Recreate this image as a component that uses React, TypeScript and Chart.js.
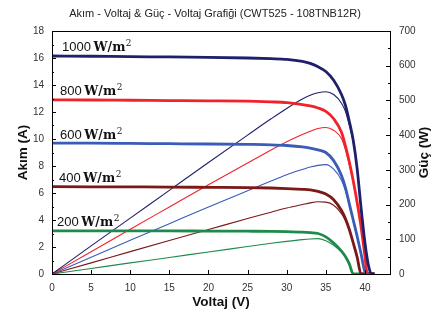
import { useEffect, useRef } from 'react';
import { Chart, registerables } from 'chart.js';
Chart.register(...registerables);

const TITLE = 'Akım - Voltaj & Güç - Voltaj Grafiği (CWT525 - 108TNB12R)';
const X_TITLE = 'Voltaj (V)';
const Y_TITLE = 'Akım (A)';
const Y2_TITLE = 'Güç (W)';

const IRRADIANCE = ['1000', '800', '600', '400', '200'];
const COLORS = ['#1e206c', '#f0222a', '#3a5cb6', '#7b1818', '#1e8a4b'];

const VOLTAGE = [0, 5, 10, 15, 20, 25, 28, 30, 32, 33, 34, 35, 36, 37, 37.5, 38, 38.5, 39, 39.5, 40, 40.3, 40.5, 40.8, 41.2];

const I_1000 = [16.15, 16.13, 16.1, 16.08, 16.05, 16.0, 15.95, 15.9, 15.75, 15.6, 15.35, 15.0, 14.35, 13.3, 12.5, 11.3, 9.9, 7.8, 4.9, 2.3, 1.1, 0.5, 0, 0];
const I_800 = [12.9, 12.89, 12.87, 12.85, 12.83, 12.8, 12.75, 12.7, 12.55, 12.45, 12.3, 12.05, 11.5, 10.5, 9.5, 8.3, 6.9, 5.3, 3.5, 1.3, 0, 0, 0, 0];
const I_600 = [9.7, 9.69, 9.67, 9.65, 9.63, 9.6, 9.57, 9.52, 9.42, 9.33, 9.2, 9.0, 8.4, 7.3, 6.4, 5.2, 4.0, 2.8, 1.5, 0.15, 0, 0, 0, 0];
const I_400 = [6.47, 6.46, 6.45, 6.44, 6.42, 6.4, 6.37, 6.33, 6.27, 6.23, 6.12, 5.92, 5.5, 4.7, 4.1, 3.3, 2.3, 1.25, 0, 0, 0, 0, 0, 0];
const I_200 = [3.2, 3.2, 3.19, 3.19, 3.18, 3.17, 3.16, 3.14, 3.1, 3.06, 3.0, 2.75, 2.3, 1.7, 1.3, 0.75, 0, 0, 0, 0, 0, 0, 0, 0];

const P_1000 = [0, 81, 161, 241, 321, 400, 447, 477, 504, 515, 522, 525, 517, 492, 469, 429, 381, 304, 194, 92, 44, 20, 0, 0];
const P_800 = [0, 64, 129, 193, 257, 320, 357, 381, 402, 411, 419, 422, 414, 390, 358, 316, 265, 207, 138, 52, 0, 0, 0, 0];
const P_600 = [0, 48, 97, 145, 193, 240, 268, 286, 301, 308, 313, 315, 302, 270, 240, 198, 154, 109, 59, 6, 0, 0, 0, 0];
const P_400 = [0, 32, 64.5, 96.5, 128, 160, 178, 190, 200, 205, 208, 207, 198, 174, 154, 125, 89, 49, 0, 0, 0, 0, 0, 0];
const P_200 = [0, 16, 32, 47.6, 63.6, 79, 88.5, 94, 99, 101, 102, 96, 83, 63, 49, 28, 0, 0, 0, 0, 0, 0, 0, 0];

const CURRENTS = [I_1000, I_800, I_600, I_400, I_200];
const POWERS = [P_1000, P_800, P_600, P_400, P_200];

const LABEL_X_OFFSET = [10, 8, 8, 7, 5];

const toPoints = (ys: number[]) => VOLTAGE.map((v, i) => ({ x: v, y: ys[i] }));

const overlay = {
  id: 'overlay',
  afterDraw(chart: any) {
    const { ctx, chartArea: a, scales } = chart;
    const x = scales.x, y = scales.y, y1 = scales.y1;
    ctx.save();
    ctx.strokeStyle = '#000';
    ctx.lineWidth = 1;
    ctx.strokeRect(Math.round(a.left) + 0.5, Math.round(a.top) + 0.5, Math.round(a.right - a.left), Math.round(a.bottom - a.top));
    ctx.beginPath();
    for (let v = 0; v <= 18; v += 1) {
      const py = Math.round(y.getPixelForValue(v)) + 0.5;
      const len = v % 2 === 0 ? 4 : 2;
      ctx.moveTo(a.left, py); ctx.lineTo(a.left + len, py);
    }
    for (let v = 0; v <= 700; v += 50) {
      const py = Math.round(y1.getPixelForValue(v)) + 0.5;
      const len = v % 100 === 0 ? 4 : 2;
      ctx.moveTo(a.right, py); ctx.lineTo(a.right - len, py);
    }
    for (let v = 0; v <= 40; v += 5) {
      const px = Math.round(x.getPixelForValue(v)) + 0.5;
      ctx.moveTo(px, a.bottom); ctx.lineTo(px, a.bottom - 4);
    }
    ctx.stroke();
    ctx.fillStyle = '#222';
    ctx.textAlign = 'center';
    ctx.textBaseline = 'middle';
    ctx.font = '11px "Liberation Sans", Arial, sans-serif';
    ctx.fillText(TITLE, 215, 14);
    ctx.font = 'bold 13.5px "Liberation Sans", Arial, sans-serif';
    ctx.fillStyle = '#111';
    ctx.fillText(X_TITLE, (a.left + a.right) / 2, 302);
    const cy = (a.top + a.bottom) / 2;
    ctx.save();
    ctx.translate(23, cy); ctx.rotate(-Math.PI / 2); ctx.fillText(Y_TITLE, 0, 0);
    ctx.restore();
    ctx.save();
    ctx.translate(424, cy); ctx.rotate(-Math.PI / 2); ctx.fillText(Y2_TITLE, 0, 0);
    ctx.restore();
    ctx.textAlign = 'left';
    ctx.textBaseline = 'alphabetic';
    IRRADIANCE.forEach((lab, i) => {
      const px = a.left + LABEL_X_OFFSET[i];
      const py = y.getPixelForValue(CURRENTS[i][0]) - 4.5;
      ctx.font = '13px "Liberation Sans", Arial, sans-serif';
      ctx.fillText(lab + ' ', px, py);
      let w = ctx.measureText(lab + ' ').width - 1;
      ctx.font = 'bold 12.5px "DejaVu Serif", serif';
      ctx.fillText('W/m', px + w, py);
      w += ctx.measureText('W/m').width + 0.5;
      ctx.font = '9px "DejaVu Serif", serif';
      ctx.fillText('2', px + w, py - 5);
    });
    ctx.restore();
  },
};

export default function App() {
  const ref = useRef<HTMLCanvasElement>(null);
  useEffect(() => {
    const tickFont = { family: '"Liberation Sans", Arial, sans-serif', size: 10 };
    const datasets: any[] = [];
    CURRENTS.forEach((c, i) => {
      datasets.push({
        data: toPoints(c), yAxisID: 'y', borderColor: COLORS[i], borderWidth: 2.8,
        pointRadius: 0, cubicInterpolationMode: 'monotone', fill: false,
      });
    });
    POWERS.forEach((p, i) => {
      datasets.push({
        data: toPoints(p), yAxisID: 'y1', borderColor: COLORS[i], borderWidth: 1.1,
        pointRadius: 0, cubicInterpolationMode: 'monotone', fill: false,
      });
    });
    const chart = new Chart(ref.current!, {
      type: 'line',
      data: { datasets },
      options: {
        animation: false,
        responsive: false,
        devicePixelRatio: 1,
        layout: { padding: { top: 31, left: 0, right: 0, bottom: 0 } },
        plugins: { legend: { display: false }, tooltip: { enabled: false }, title: { display: false } },
        scales: {
          x: {
            type: 'linear', min: 0, max: 43.2,
            ticks: { stepSize: 5, includeBounds: false, padding: 0, font: tickFont, color: '#333', maxRotation: 0 },
            grid: { display: false }, border: { display: false },
            afterFit: (s: any) => { s.height = 38; },
          },
          y: {
            type: 'linear', position: 'left', min: 0, max: 18,
            ticks: { stepSize: 2, padding: 0, font: tickFont, color: '#333' },
            grid: { display: false }, border: { display: false },
            afterFit: (s: any) => { s.width = 52; },
          },
          y1: {
            type: 'linear', position: 'right', min: 0, max: 700,
            ticks: { stepSize: 100, padding: 1, font: tickFont, color: '#333' },
            grid: { display: false }, border: { display: false },
            afterFit: (s: any) => { s.width = 55; },
          },
        },
      },
      plugins: [overlay],
    } as any);
    return () => chart.destroy();
  }, []);
  return (
    <div style={{ position: 'absolute', left: 0, top: 0, width: 445, height: 312, background: '#fff' }}>
      <canvas ref={ref} width={445} height={312} />
    </div>
  );
}
